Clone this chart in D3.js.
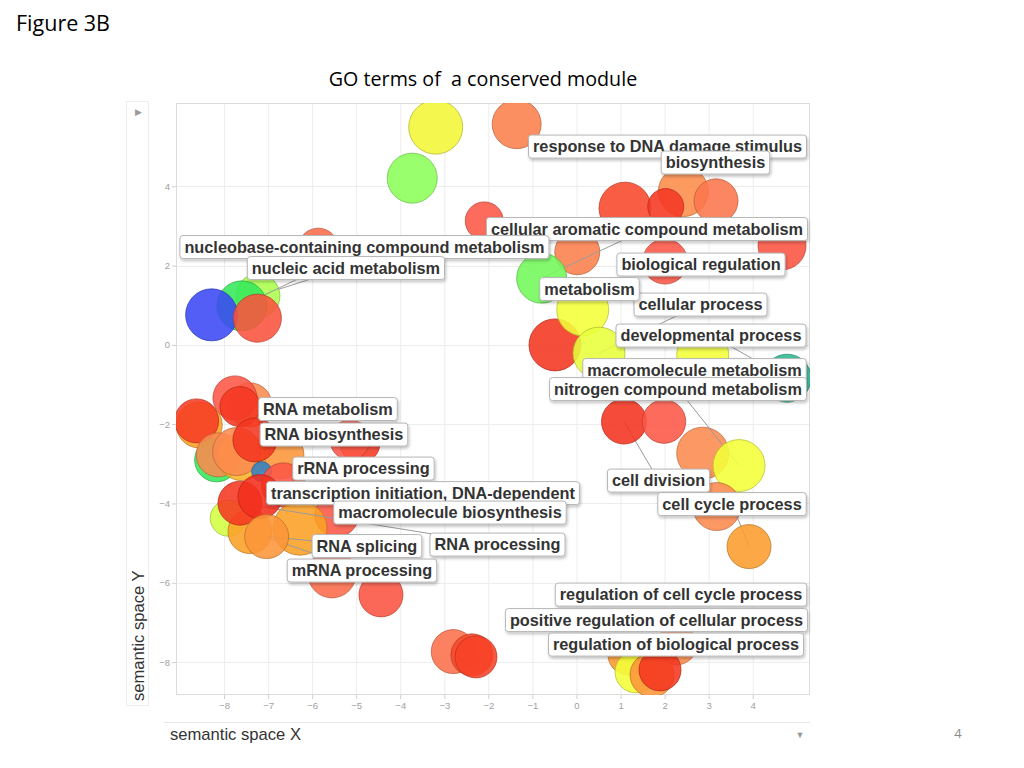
<!DOCTYPE html>
<html><head><meta charset="utf-8">
<script src="https://cdn.jsdelivr.net/npm/d3@7"></script>
<style>body{margin:0;background:#fff} svg{display:block}</style>
</head><body>
<svg id="c" width="1024" height="768"></svg>
<script>
// ---------- data ----------
const xTicks = [-8,-7,-6,-5,-4,-3,-2,-1,0,1,2,3,4];
const yTicks = [-8,-6,-4,-2,0,2,4];
const bubbleX = [-3.196,-3.728,-1.358,-2.093,-5.862,-7.230,-7.594,-8.282,-7.242,
  1.101,2.424,3.167,2.025,0.018,-0.790,2.009,4.665,-0.488,0.141,0.511,2.865,4.779,
  1.078,1.986,2.865,3.689,3.183,3.916,
  -7.412,-7.752,-7.639,-8.563,-8.622,-8.168,-8.132,-6.731,-7.601,-7.714,-7.299,-7.146,
  -4.915,-5.142,-6.656,-5.444,-6.277,-7.905,-7.412,-7.639,-7.185,-7.033,
  -5.550,-4.438,-2.797,-2.372,-2.282,
  1.169,2.275,1.351,1.714,1.896];
const bubbleY = [5.491,4.204,5.566,3.127,2.439,1.236,0.984,0.757,0.673,
  3.448,3.866,3.632,3.488,2.338,1.682,2.101,2.497,0.000,0.883,-0.209,-0.252,-0.840,
  -1.934,-1.934,-2.731,-3.044,-4.078,-5.087,
  -1.513,-1.337,-1.556,-2.018,-1.917,-2.900,-2.774,-2.774,-2.817,-2.691,-2.396,-3.195,
  -2.479,-2.396,-3.531,-4.288,-4.623,-4.371,-4.709,-3.992,-3.826,-4.835,
  -5.776,-6.305,-7.735,-7.818,-7.869,
  -7.818,-7.566,-8.247,-8.323,-8.197];
const bubbleLogSize = [5.4,5.0,4.9,3.8,4.0,4.4,5.0,5.2,4.8,
  5.2,5.0,4.4,3.6,4.5,5.0,4.5,4.8,5.2,5.2,5.2,5.2,4.8,
  4.5,4.35,5.2,5.2,4.8,4.4,
  4.4,4.4,4.0,4.6,4.4,4.4,4.4,4.8,4.8,4.8,4.4,2.0,
  4.0,4.0,4.4,4.4,5.4,3.6,4.4,4.4,4.4,4.4,
  4.8,4.4,4.4,4.2,4.2,
  4.0,4.0,4.2,4.4,4.2];
const bubbleLogP = [-5.1,-4.0,-7.2,-8.0,-7.6,-4.3,-3.0,-1.0,-8.3,
  -9.0,-6.9,-7.4,-9.5,-7.2,-3.7,-8.0,-8.2,-9.6,-5.0,-4.9,-5.0,-2.0,
  -9.7,-8.0,-7.0,-5.0,-7.0,-6.2,
  -7.0,-8.0,-9.5,-6.0,-9.3,-3.0,-7.0,-6.5,-5.8,-7.0,-9.6,-1.5,
  -9.5,-8.0,-8.0,-8.0,-6.0,-4.7,-6.0,-9.5,-9.8,-6.5,
  -7.6,-8.2,-7.5,-9.0,-9.2,
  -6.3,-7.0,-5.0,-6.5,-9.6];
const labelNames = ["response to DNA damage stimulus","biosynthesis",
  "cellular aromatic compound metabolism","nucleobase-containing compound metabolism",
  "nucleic acid metabolism","biological regulation","cellular process","metabolism",
  "developmental process","macromolecule metabolism","nitrogen compound metabolism",
  "RNA metabolism","RNA biosynthesis","rRNA processing",
  "transcription initiation, DNA-dependent","macromolecule biosynthesis",
  "cell division","cell cycle process","RNA splicing","RNA processing","mRNA processing",
  "regulation of cell cycle process","positive regulation of cellular process",
  "regulation of biological process"];
const labelX = [2.066,3.155,1.600,-4.813,-5.233,2.826,2.815,0.295,3.053,2.679,2.304,
  -5.641,-5.505,-4.835,-3.485,-2.872,1.862,3.530,-4.756,-1.793,-4.869,2.372,1.816,2.259];
const labelY = [5.006,4.603,2.926,2.472,1.942,2.030,1.021,1.412,0.240,-0.631,-1.110,
  -1.614,-2.257,-3.115,-3.733,-4.224,-3.417,-4.010,-5.069,-5.032,-5.687,-6.293,-6.936,-7.554];
const linkBubble = [5,6,14,19,21,22,25,27,46,47,49];
const linkLabel  = [4,3,2,6,8,16,10,17,20,19,18];

// ---------- setup ----------
const svg = d3.select("#c");
const x = d3.scaleLinear().domain([-9.09, 5.30]).range([176, 810]);
const y = d3.scaleLinear().domain([-8.83, 6.10]).range([695, 103]);
const r = d3.scaleLinear().domain([0, 6]).range([0, 30]);
const color = d3.scaleLinear()
  .domain([-10,-9,-8,-7,-6,-5,-4,-3,-2,-1])
  .range(["#f2281a","#f8482a","#fc5646","#fc8a4e","#fca024","#f2ff38","#8cff58","#34e85a","#2ab890","#3a48f5"]);

const defs = svg.append("defs");
const f = defs.append("filter").attr("id","sh").attr("x","-10%").attr("y","-30%").attr("width","120%").attr("height","170%");
f.append("feDropShadow").attr("dx",1).attr("dy",2).attr("stdDeviation",1.5).attr("flood-color","#000").attr("flood-opacity",0.25);
defs.append("clipPath").attr("id","clip").append("rect").attr("x",176).attr("y",103).attr("width",634).attr("height",592);

// page texts
svg.append("text").attr("x",16).attr("y",31).text("Figure 3B")
  .style("font-family","'Open Sans', Lato, sans-serif").style("font-size","21.5px").attr("fill","#000");
svg.append("text").attr("x",483).attr("y",86).attr("text-anchor","middle").style("white-space","pre")
  .text("GO terms of  a conserved module")
  .style("font-family","'Open Sans', Lato, sans-serif").style("font-size","19.7px").attr("fill","#000");
svg.append("text").attr("x",958).attr("y",738).attr("text-anchor","middle").text("4")
  .style("font-family","'Open Sans', sans-serif").style("font-size","13px").attr("fill","#8a8a8a");

// y panel
svg.append("rect").attr("x",126.5).attr("y",101.5).attr("width",22).attr("height",604)
  .attr("fill","#fff").attr("stroke","#ececec");
svg.append("text").attr("x",138).attr("y",115).attr("text-anchor","middle").text("\u25B6")
  .style("font-size","9px").attr("fill","#9a9a9a");
svg.append("text").attr("transform","translate(144,701) rotate(-90)").text("semantic space Y")
  .style("font-family","'Liberation Sans', Arial, sans-serif").style("font-size","16.6px").attr("fill","#333");
// x panel
svg.append("line").attr("x1",164).attr("x2",810).attr("y1",722.5).attr("y2",722.5).attr("stroke","#e6e6e6");
svg.append("text").attr("x",170).attr("y",740).text("semantic space X")
  .style("font-family","'Liberation Sans', Arial, sans-serif").style("font-size","16.6px").attr("fill","#333");
svg.append("text").attr("x",800).attr("y",738).attr("text-anchor","middle").text("\u25BC")
  .style("font-size","9px").attr("fill","#9a9a9a");

// grid
const g = svg.append("g");
g.selectAll(".vg").data(xTicks).join("line").attr("x1",d=>x(d)+0.5).attr("x2",d=>x(d)+0.5)
  .attr("y1",103).attr("y2",695).attr("stroke","#ededed");
g.selectAll(".hg").data(yTicks).join("line").attr("y1",d=>Math.round(y(d))+0.5).attr("y2",d=>Math.round(y(d))+0.5)
  .attr("x1",176).attr("x2",810).attr("stroke","#ededed");
svg.append("rect").attr("x",176.5).attr("y",103.5).attr("width",633).attr("height",591)
  .attr("fill","none").attr("stroke","#dcdcdc");

// axes
const ax = svg.append("g").attr("transform","translate(0,695)")
  .call(d3.axisBottom(x).tickValues(xTicks).tickSize(4).tickPadding(3).tickFormat(d3.format("d")));
const ay = svg.append("g").attr("transform","translate(176,0)")
  .call(d3.axisLeft(y).tickValues(yTicks).tickSize(4).tickPadding(2).tickFormat(d3.format("d")));
[ax, ay].forEach(a => {
  a.select(".domain").remove();
  a.selectAll("line").attr("stroke","#cfcfcf");
  a.selectAll("text").attr("fill","#a0a0a0").style("font-family","'Liberation Sans', Arial, sans-serif").style("font-size","9.5px");
});

// bubbles with interleaved leader lines
const bl = svg.append("g").attr("clip-path","url(#clip)");
bubbleX.forEach((bx, i) => {
  const k = linkBubble.indexOf(i);
  if (k >= 0) {
    const li = linkLabel[k];
    bl.append("line").attr("x1",x(bx)).attr("y1",y(bubbleY[i]))
      .attr("x2",x(labelX[li])).attr("y2",y(labelY[li]))
      .attr("stroke","#9a9a9a").attr("stroke-width",1);
  }
  const c = color(bubbleLogP[i]);
  bl.append("circle").attr("cx",x(bx)).attr("cy",y(bubbleY[i])).attr("r",r(bubbleLogSize[i]))
    .attr("fill",c).attr("fill-opacity",0.88)
    .attr("stroke",d3.color(c).darker(0.9)).attr("stroke-opacity",0.7).attr("stroke-width",1);
});

// labels
const lg = svg.append("g");
labelNames.forEach((name, i) => {
  const gg = lg.append("g");
  const rect = gg.append("rect").attr("rx",3).attr("ry",3)
    .attr("fill","#fff").attr("stroke","#b5b5b5").attr("stroke-width",1).attr("filter","url(#sh)");
  const t = gg.append("text").attr("x",x(labelX[i])).attr("y",y(labelY[i])+5.8)
    .attr("text-anchor","middle").text(name)
    .style("font-family","'Liberation Sans', Arial, sans-serif").style("font-weight","bold")
    .style("font-size","16.3px").attr("fill","#333");
  const w = t.node().getComputedTextLength() + 9;
  rect.attr("x",x(labelX[i]) - w/2).attr("y",y(labelY[i]) - 11.3).attr("width",w).attr("height",23);
});
</script>
</body></html>
